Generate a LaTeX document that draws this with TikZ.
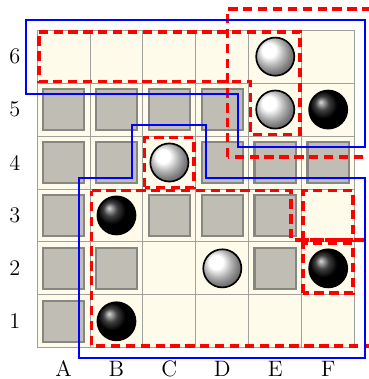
\documentclass[tikz,border=0pt]{standalone}
\usepackage{tikz}
\usetikzlibrary{positioning,calc}
\definecolor{cellbg}{RGB}{255,251,234}
\definecolor{wallfill}{RGB}{191,189,180}
\definecolor{wallline}{RGB}{134,134,130}
\definecolor{gridline}{RGB}{160,160,156}

\begin{document}
\begin{tikzpicture}[
    font=\large,
    cell/.style={draw=gridline, fill=cellbg, line width=0.5pt},
    wall/.style={draw=wallline, fill=wallfill, line width=1.2pt},
    stone/.style={
        circle,
        draw=black,
        line width=0.9pt,
        minimum size=0.72cm,
        inner sep=0pt
    },
    wstone/.style={stone, ball color=white},
    bstone/.style={stone, ball color=black},
    zone/.style={draw=red, line width=2pt, dash pattern=on 5pt off 3pt},
    group/.style={draw=blue, line width=1.1pt},
    lbl/.style={inner sep=0pt}
]
\clip (-0.7,-0.59) rectangle (6.27,6.57);

% board
\foreach \x in {0,...,5}
  \foreach \y in {0,...,5}
    \draw[cell] (\x,\y) rectangle ++(1,1);

% walls
\foreach \x/\y in {0/0,0/1,1/1,4/1,0/2,2/2,3/2,4/2,0/3,1/3,3/3,4/3,5/3,0/4,1/4,2/4,3/4}
  \draw[wall] (\x+0.11,\y+0.11) rectangle ++(0.78,0.78);

% coordinates
\foreach \n [count=\i from 0] in {1,...,6}
  \node[lbl] (row\n) at (-0.42,\i+0.5) {\n};
\foreach \c [count=\i from 0] in {A,...,F}
  \node[lbl] (col\c) at (\i+0.5,-0.39) {\c};

% stones
\node[wstone] (e6) at (4.5,5.5) {};
\node[wstone] (e5) at (4.5,4.5) {};
\node[bstone] (f5) at (5.5,4.5) {};
\node[wstone] (c4) at (2.5,3.5) {};
\node[bstone] (b3) at (1.5,2.5) {};
\node[wstone] (d2) at (3.5,1.5) {};
\node[bstone] (f2) at (5.5,1.5) {};
\node[bstone] (b1) at (1.5,0.5) {};

% red zones
\draw[zone] (0.03,5.97) -- (4.97,5.97) -- (4.97,4.03) -- (4.03,4.03)
    -- (4.03,5.03) -- (0.03,5.03) -- cycle;
\draw[zone] (3.6,3.6) rectangle (7,6.4);
\draw[zone] (2.03,3.03) rectangle (2.97,3.97);
\draw[zone] (1.03,2.97) -- (4.8,2.97) -- (4.8,2.03) -- (7,2.03)
    -- (7,0.03) -- (1.03,0.03) -- cycle;
\draw[zone] (5.03,2.03) rectangle (5.97,2.97);
\draw[zone] (5.03,1.03) rectangle (5.97,1.97);

% blue groups
\draw[group] (-0.2,6.2) -- (6.2,6.2) -- (6.2,3.8) -- (3.8,3.8)
    -- (3.8,4.8) -- (-0.2,4.8) -- cycle;
\draw[group] (1.8,4.2) -- (3.2,4.2) -- (3.2,3.2) -- (6.2,3.2)
    -- (6.2,-0.2) -- (0.8,-0.2) -- (0.8,3.2) -- (1.8,3.2) -- cycle;

\end{tikzpicture}
\end{document}
